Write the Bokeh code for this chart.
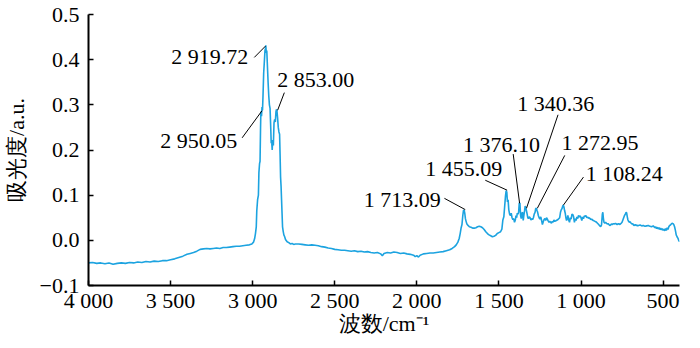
from bokeh.plotting import figure
from bokeh.models import Range1d, FixedTicker, ColumnDataSource
from bokeh.core.properties import value
from bokeh.embed import file_html
from bokeh.resources import INLINE

# ---- spectrum data (wavenumber cm^-1, absorbance a.u.) ----
wavenumber = [
    4000, 3975, 3950, 3925, 3900, 3875, 3850, 3825, 3800, 3775, 3750, 3725, 3700, 3675, 3650, 3625,
    3600, 3575, 3550, 3525, 3500, 3475, 3450, 3425, 3400, 3380, 3360, 3340, 3320, 3300, 3280, 3260,
    3240, 3220, 3200, 3180, 3160, 3140, 3120, 3100, 3080, 3060, 3040, 3020, 3005, 2995, 2988, 2983,
    2978, 2975, 2970, 2965, 2962, 2958, 2955, 2952, 2950, 2946, 2943, 2940, 2937, 2933, 2929, 2925,
    2922, 2920, 2917, 2914, 2910, 2906, 2902, 2898, 2894, 2890, 2887, 2884, 2881, 2878, 2874, 2870,
    2866, 2862, 2858, 2855, 2852, 2848, 2844, 2840, 2836, 2833, 2830, 2827, 2824, 2821, 2818, 2814,
    2810, 2805, 2800, 2790, 2780, 2770, 2760, 2750, 2740, 2720, 2700, 2680, 2660, 2640, 2620, 2600,
    2580, 2560, 2540, 2520, 2500, 2480, 2460, 2440, 2420, 2400, 2380, 2360, 2340, 2320, 2300, 2280,
    2260, 2240, 2220, 2210, 2200, 2180, 2160, 2140, 2120, 2100, 2080, 2060, 2040, 2020, 2010, 2000,
    1990, 1980, 1960, 1940, 1920, 1900, 1880, 1860, 1840, 1820, 1800, 1785, 1770, 1760, 1750, 1742,
    1736, 1730, 1725, 1720, 1716, 1712, 1708, 1704, 1700, 1695, 1688, 1680, 1670, 1660, 1650, 1640,
    1630, 1620, 1610, 1600, 1590, 1580, 1570, 1560, 1550, 1540, 1530, 1520, 1510, 1500, 1490, 1482,
    1476, 1470, 1465, 1460, 1456, 1452, 1448, 1444, 1440, 1435, 1430, 1425, 1420, 1415, 1410, 1405,
    1400, 1396, 1392, 1388, 1384, 1380, 1376, 1372, 1368, 1364, 1360, 1356, 1352, 1348, 1344, 1340,
    1336, 1332, 1328, 1324, 1320, 1315, 1310, 1305, 1300, 1295, 1290, 1285, 1280, 1276, 1272, 1268,
    1264, 1260, 1255, 1250, 1245, 1240, 1235, 1230, 1225, 1220, 1215, 1210, 1205, 1200, 1195, 1190,
    1185, 1180, 1175, 1170, 1165, 1160, 1150, 1140, 1130, 1125, 1120, 1116, 1112, 1108, 1104, 1100,
    1096, 1092, 1088, 1084, 1080, 1075, 1070, 1065, 1060, 1055, 1050, 1045, 1040, 1035, 1030, 1025,
    1020, 1015, 1010, 1005, 1000, 995, 990, 985, 980, 975, 970, 965, 960, 955, 950, 945,
    940, 935, 930, 925, 920, 915, 910, 905, 900, 895, 890, 885, 880, 875, 870, 867,
    864, 860, 855, 850, 845, 840, 835, 830, 825, 820, 815, 810, 805, 800, 795, 790,
    785, 780, 775, 770, 765, 760, 755, 750, 745, 740, 735, 730, 725, 722, 718, 714,
    710, 705, 700, 695, 690, 685, 680, 675, 670, 665, 660, 655, 650, 640, 630, 620,
    610, 600, 590, 580, 570, 560, 550, 545, 540, 535, 530, 525, 520, 515, 510, 505,
    500, 495, 490, 485, 480, 475, 470, 465, 460, 455, 450, 445, 440, 435, 430, 425,
    420, 415, 410, 405, 400,
]
absorbance = [
    -0.050, -0.049, -0.051, -0.050, -0.052, -0.050, -0.053, -0.051, -0.050, -0.051, -0.049, -0.050, -0.048, -0.049, -0.047, -0.048,
    -0.046, -0.047, -0.045, -0.045, -0.043, -0.041, -0.038, -0.035, -0.031, -0.029, -0.027, -0.024, -0.020, -0.019, -0.018, -0.019,
    -0.018, -0.017, -0.018, -0.016, -0.016, -0.015, -0.014, -0.013, -0.013, -0.012, -0.011, -0.010, -0.008, -0.004, 0.004, 0.015,
    0.030, 0.065, 0.090, 0.100, 0.150, 0.170, 0.175, 0.250, 0.285, 0.275, 0.295, 0.288, 0.320, 0.370, 0.395, 0.420,
    0.425, 0.432, 0.415, 0.420, 0.385, 0.350, 0.320, 0.300, 0.292, 0.250, 0.215, 0.218, 0.200, 0.222, 0.210, 0.260,
    0.268, 0.262, 0.285, 0.290, 0.287, 0.270, 0.250, 0.240, 0.235, 0.190, 0.140, 0.120, 0.090, 0.060, 0.030, 0.020,
    0.012, 0.008, 0.002, -0.003, -0.005, -0.008, -0.007, -0.009, -0.008, -0.008, -0.009, -0.010, -0.011, -0.010, -0.011, -0.012,
    -0.014, -0.015, -0.017, -0.018, -0.020, -0.021, -0.022, -0.022, -0.023, -0.024, -0.023, -0.025, -0.024, -0.026, -0.025, -0.027,
    -0.028, -0.027, -0.030, -0.034, -0.029, -0.027, -0.028, -0.026, -0.027, -0.029, -0.028, -0.030, -0.031, -0.033, -0.036, -0.034,
    -0.037, -0.033, -0.030, -0.029, -0.028, -0.028, -0.027, -0.026, -0.025, -0.023, -0.021, -0.018, -0.014, -0.010, -0.004, 0.004,
    0.015, 0.028, 0.035, 0.055, 0.066, 0.067, 0.060, 0.048, 0.042, 0.036, 0.033, 0.030, 0.029, 0.027, 0.027, 0.028,
    0.030, 0.031, 0.030, 0.028, 0.024, 0.019, 0.015, 0.012, 0.010, 0.008, 0.009, 0.011, 0.015, 0.017, 0.019, 0.025,
    0.045, 0.052, 0.075, 0.098, 0.110, 0.107, 0.085, 0.090, 0.068, 0.058, 0.055, 0.060, 0.050, 0.046, 0.048, 0.040,
    0.045, 0.055, 0.050, 0.060, 0.058, 0.062, 0.083, 0.082, 0.055, 0.048, 0.060, 0.062, 0.044, 0.055, 0.065, 0.076,
    0.072, 0.065, 0.058, 0.050, 0.048, 0.052, 0.050, 0.045, 0.048, 0.046, 0.050, 0.058, 0.062, 0.070, 0.071, 0.066,
    0.062, 0.055, 0.050, 0.047, 0.052, 0.044, 0.035, 0.041, 0.046, 0.048, 0.044, 0.050, 0.047, 0.043, 0.040, 0.042,
    0.040, 0.038, 0.042, 0.040, 0.045, 0.042, 0.044, 0.046, 0.050, 0.062, 0.068, 0.070, 0.075, 0.078, 0.074, 0.066,
    0.060, 0.050, 0.044, 0.048, 0.055, 0.045, 0.040, 0.050, 0.047, 0.058, 0.057, 0.052, 0.040, 0.048, 0.044, 0.052,
    0.048, 0.055, 0.052, 0.054, 0.050, 0.044, 0.052, 0.048, 0.054, 0.053, 0.055, 0.050, 0.052, 0.049, 0.050, 0.048,
    0.046, 0.047, 0.045, 0.044, 0.043, 0.042, 0.041, 0.040, 0.038, 0.036, 0.034, 0.032, 0.030, 0.034, 0.058, 0.062,
    0.050, 0.040, 0.038, 0.040, 0.038, 0.036, 0.037, 0.035, 0.033, 0.034, 0.036, 0.035, 0.036, 0.037, 0.036, 0.038,
    0.036, 0.035, 0.036, 0.037, 0.035, 0.036, 0.038, 0.040, 0.045, 0.050, 0.055, 0.058, 0.062, 0.061, 0.052, 0.045,
    0.042, 0.040, 0.041, 0.038, 0.036, 0.037, 0.034, 0.033, 0.035, 0.033, 0.034, 0.032, 0.033, 0.034, 0.032, 0.033,
    0.031, 0.032, 0.033, 0.031, 0.030, 0.032, 0.028, 0.030, 0.026, 0.029, 0.025, 0.028, 0.024, 0.027, 0.023, 0.026,
    0.022, 0.025, 0.021, 0.026, 0.022, 0.028, 0.024, 0.030, 0.033, 0.034, 0.036, 0.038, 0.037, 0.035, 0.030, 0.022,
    0.012, 0.008, 0.005, 0.000, -0.003,
]

# ---- peak annotations ----
peak_labels = ["2 919.72", "2 950.05", "2 853.00", "1 713.09", "1 455.09",
               "1 376.10", "1 340.36", "1 272.95", "1 108.24"]
label_x = [3027, 3094, 2851, 1854, 1480, 1250, 1389, 1119, 971]
label_y = [0.407, 0.220, 0.355, 0.091, 0.158, 0.213, 0.304, 0.217, 0.147]
label_align = ["right", "right", "left", "right", "right", "right", "left", "left", "left"]
lead_x0 = [2990, 3064, 2807, 1832, 1583, 1413, 1140, 1099, 985]
lead_y0 = [0.405, 0.227, 0.327, 0.093, 0.133, 0.191, 0.278, 0.188, 0.140]
lead_x1 = [2922, 2943, 2848, 1705, 1450, 1374, 1332, 1266, 1107]
lead_y1 = [0.430, 0.287, 0.288, 0.068, 0.111, 0.082, 0.071, 0.071, 0.078]

x_ticks = [4000, 3500, 3000, 2500, 2000, 1500, 1000, 500]
x_tick_labels = ["4 000", "3 500", "3 000", "2 500", "2 000", "1 500", "1 000", "500"]
y_ticks = [-0.1, 0.0, 0.1, 0.2, 0.3, 0.4, 0.5]
y_tick_labels = ["\u22120.1", "0.0", "0.1", "0.2", "0.3", "0.4", "0.5"]
x_title = "波数/cm\u207b\u00b9"
y_title = "吸光度/a.u."

SERIF = "Liberation Serif"
FS = "22px"

p = figure(width=692, height=342, output_backend="svg", toolbar_location=None,
           x_range=Range1d(4000, 400), y_range=Range1d(-0.1, 0.5),
           min_border_left=82, min_border_right=13, min_border_top=14, min_border_bottom=57)
p.outline_line_color = None
p.grid.visible = False
p.background_fill_color = "white"

p.line(wavenumber, absorbance, line_color="#1CA3E0", line_width=1.6)

src = ColumnDataSource(dict(x=label_x, y=label_y, t=peak_labels, a=label_align,
                            x0=lead_x0, y0=lead_y0, x1=lead_x1, y1=lead_y1))
p.segment(x0="x0", y0="y0", x1="x1", y1="y1", source=src, line_color="black", line_width=1)
p.text(x="x", y="y", text="t", source=src, text_align="a", text_baseline="middle",
       text_font=value(SERIF), text_font_size=FS, text_color="black")

for ax in (p.xaxis[0], p.yaxis[0]):
    ax.axis_line_width = 2
    ax.axis_line_color = "black"
    ax.major_tick_in = 5
    ax.major_tick_out = 0
    ax.major_tick_line_width = 1.5
    ax.minor_tick_line_color = None
    ax.major_label_text_font = SERIF
    ax.major_label_text_font_size = FS
    ax.major_label_text_color = "black"
    ax.axis_label_text_font = SERIF
    ax.axis_label_text_font_size = FS
    ax.axis_label_text_font_style = "normal"
    ax.axis_label_text_color = "black"

p.xaxis.ticker = FixedTicker(ticks=x_ticks)
p.xaxis.major_label_overrides = dict(zip(x_ticks, x_tick_labels))
p.yaxis.ticker = FixedTicker(ticks=y_ticks)
p.yaxis.major_label_overrides = dict(zip(y_ticks, y_tick_labels))
p.xaxis.major_label_standoff = 2
p.yaxis.major_label_standoff = 9
p.xaxis.axis_label = x_title
p.yaxis.axis_label = y_title
p.xaxis.axis_label_standoff = -5
p.yaxis.axis_label_standoff = 8

open("out.html", "w").write(file_html(p, INLINE))
